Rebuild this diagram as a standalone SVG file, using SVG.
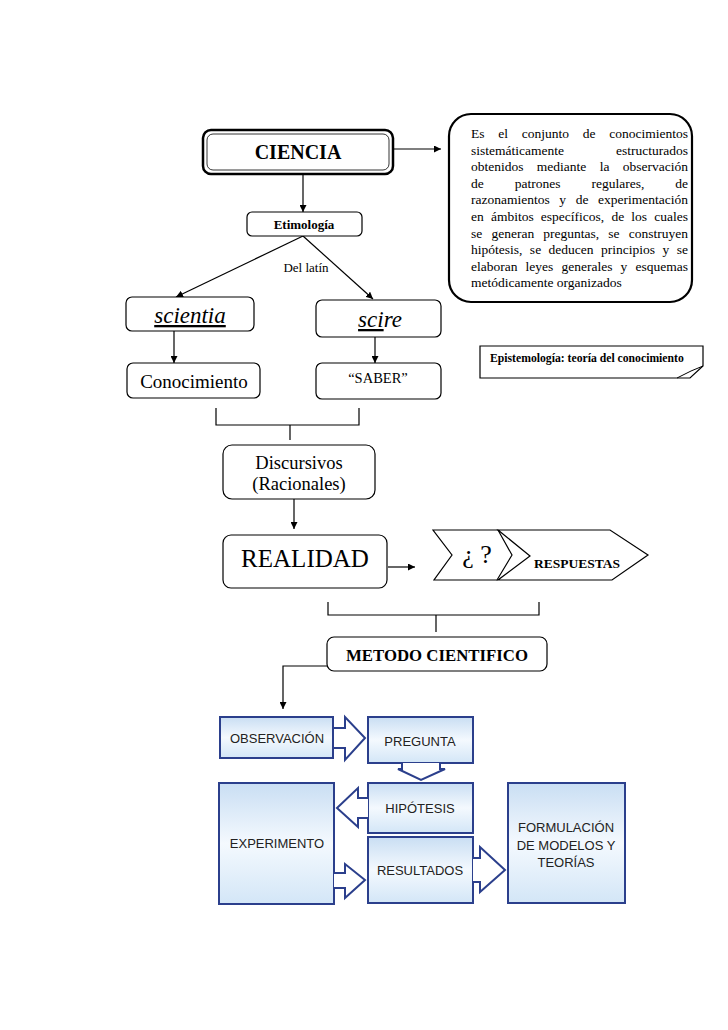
<svg xmlns="http://www.w3.org/2000/svg" width="728" height="1030" viewBox="0 0 728 1030">
<defs>
<marker id="ah" viewBox="0 0 10 10" refX="10" refY="5" markerWidth="7" markerHeight="7" orient="auto" markerUnits="userSpaceOnUse"><path d="M0,0 L10,5 L0,10 z" fill="#000"/></marker>
<linearGradient id="bg" x1="0" y1="0" x2="0" y2="1">
<stop offset="0" stop-color="#c9def3"/><stop offset="0.5" stop-color="#f4f9fe"/><stop offset="1" stop-color="#d3e6f7"/>
</linearGradient>
<style>
.box{fill:#fff;stroke:#000;stroke-width:1.2}
.t{font-family:"Liberation Serif",serif;fill:#000}
.b{font-family:"Liberation Serif",serif;font-weight:bold;fill:#000}
.s{font-family:"Liberation Sans",Arial,sans-serif;fill:#222}
.bb{fill:url(#bg);stroke:#2b3f8c;stroke-width:2}
.ba{fill:#fff;stroke:#2b3f8c;stroke-width:2;stroke-linejoin:miter}
.c{fill:none;stroke:#000;stroke-width:1.2}
</style>
</defs>
<rect width="728" height="1030" fill="#fff"/>

<g id="connectors">
<line class="c" x1="393" y1="149" x2="441" y2="149" marker-end="url(#ah)"/>
<line class="c" x1="303" y1="174" x2="303" y2="212" marker-end="url(#ah)"/>
<line class="c" x1="303" y1="236" x2="176" y2="297" marker-end="url(#ah)"/>
<line class="c" x1="303" y1="236" x2="373" y2="299" marker-end="url(#ah)"/>
<line class="c" x1="174" y1="331" x2="174" y2="363" marker-end="url(#ah)"/>
<line class="c" x1="375" y1="337" x2="375" y2="363" marker-end="url(#ah)"/>
<path class="c" d="M216,408 V425 H359 V408 M290,425 V440"/>
<line class="c" x1="294" y1="499" x2="294" y2="529" marker-end="url(#ah)"/>
<line class="c" x1="388" y1="567" x2="415" y2="567" marker-end="url(#ah)"/>
<path class="c" d="M328,602 V615 H539 V602 M436,615 V632"/>
<path class="c" d="M327,666 H283 V709" marker-end="url(#ah)"/>
</g>

<g id="ciencia">
<rect x="203" y="130" width="190" height="44" rx="8" fill="#fff" stroke="#000" stroke-width="2.5"/>
<rect x="207" y="134" width="182" height="36" rx="6" fill="none" stroke="#000" stroke-width="0.8"/>
<text class="b" x="298" y="159" font-size="20" text-anchor="middle">CIENCIA</text>
</g>

<g id="definicion">
<rect x="449" y="114" width="243" height="188" rx="22" fill="#fff" stroke="#000" stroke-width="2.2"/>
<g class="t" font-size="13.5">
<text x="471" y="138" word-spacing="10.4" textLength="217" lengthAdjust="spacing">Es el conjunto de conocimientos</text>
<text x="471" y="154.6" word-spacing="48.7" textLength="217" lengthAdjust="spacing">sistemáticamente estructurados</text>
<text x="471" y="171.2" word-spacing="10" textLength="217" lengthAdjust="spacing">obtenidos mediante la observación</text>
<text x="471" y="187.8" word-spacing="27.6" textLength="217" lengthAdjust="spacing">de patrones regulares, de</text>
<text x="471" y="204.4" word-spacing="6.2" textLength="217" lengthAdjust="spacing">razonamientos y de experimentación</text>
<text x="471" y="221" word-spacing="3.8" textLength="217" lengthAdjust="spacing">en ámbitos específicos, de los cuales</text>
<text x="471" y="237.6" word-spacing="5.8" textLength="217" lengthAdjust="spacing">se generan preguntas, se construyen</text>
<text x="471" y="254.2" word-spacing="4.1" textLength="217" lengthAdjust="spacing">hipótesis, se deducen principios y se</text>
<text x="471" y="270.8" word-spacing="4.8" textLength="217" lengthAdjust="spacing">elaboran leyes generales y esquemas</text>
<text x="471" y="287.4">metódicamente organizados</text>
</g>
</g>

<g id="etimologia">
<rect class="box" x="247" y="212" width="115" height="24" rx="5"/>
<text class="b" x="304" y="229" font-size="13" text-anchor="middle">Etimología</text>
</g>

<g id="del-latin">
<text class="t" x="306" y="272" font-size="13" text-anchor="middle">Del latín</text>
</g>

<g id="scientia">
<rect class="box" x="126" y="297" width="128" height="34" rx="6"/>
<text class="t" x="190" y="323" font-size="23" font-style="italic" text-anchor="middle" text-decoration="underline">scientia</text>
</g>

<g id="scire">
<rect class="box" x="316" y="300" width="125" height="37" rx="6"/>
<text class="t" x="380" y="327" font-size="23" font-style="italic" text-anchor="middle"><tspan text-decoration="underline">sci</tspan>re</text>
</g>

<g id="conocimiento">
<rect class="box" x="127" y="363" width="133" height="35" rx="6"/>
<text class="t" x="194" y="388" font-size="19" text-anchor="middle">Conocimiento</text>
</g>

<g id="saber">
<rect class="box" x="316" y="363" width="125" height="36" rx="6"/>
<text class="t" x="378" y="383" font-size="14.5" text-anchor="middle">“SABER”</text>
</g>

<g id="epistemologia">
<path d="M480,346 H703 V366 L690,378 H480 Z" fill="#fff" stroke="#000" stroke-width="1.2"/>
<path d="M703,366 Q692,370 677,378" fill="none" stroke="#000" stroke-width="1"/>
<text class="b" x="490" y="362" font-size="11.7">Epistemología: teoría del conocimiento</text>
</g>

<g id="discursivos">
<rect class="box" x="223" y="445" width="152" height="54" rx="9"/>
<text class="t" x="299" y="469" font-size="18.5" text-anchor="middle">Discursivos</text>
<text class="t" x="299" y="490" font-size="18.5" text-anchor="middle">(Racionales)</text>
</g>

<g id="realidad">
<rect class="box" x="223" y="535" width="164" height="53" rx="8"/>
<text class="t" x="305" y="567" font-size="25" text-anchor="middle">REALIDAD</text>
</g>

<g id="pregunta-chevron">
<path d="M433,530 H498 L512,555 L497,580 H434 L452,555 Z" fill="#fff" stroke="#000" stroke-width="1.2"/>
<text class="t" x="477" y="563" font-size="26" text-anchor="middle">¿ ?</text>
</g>

<g id="respuestas">
<path d="M498,530 H610 L648,555 L612,580 H498 L530,556 Z" fill="#fff" stroke="#000" stroke-width="1.2"/>
<text class="b" x="577" y="568" font-size="13.5" text-anchor="middle">RESPUESTAS</text>
</g>

<g id="metodo">
<rect class="box" x="327" y="637" width="220" height="34" rx="7"/>
<text class="b" x="437" y="661" font-size="16.8" text-anchor="middle">METODO CIENTIFICO</text>
</g>

<g id="observacion">
<rect class="bb" x="220" y="717" width="113" height="41"/>
<text class="s" x="277" y="743" font-size="13" text-anchor="middle">OBSERVACIÓN</text>
</g>

<g id="pregunta">
<rect class="bb" x="368" y="717" width="105" height="46"/>
<text class="s" x="420" y="746" font-size="13" text-anchor="middle">PREGUNTA</text>
</g>

<g id="experimento">
<rect class="bb" x="219" y="783" width="115" height="121"/>
<text class="s" x="277" y="848" font-size="13" text-anchor="middle">EXPERIMENTO</text>
</g>

<g id="hipotesis">
<rect class="bb" x="368" y="783" width="105" height="50"/>
<text class="s" x="420" y="813" font-size="13" text-anchor="middle">HIPÓTESIS</text>
</g>

<g id="resultados">
<rect class="bb" x="368" y="837" width="105" height="66"/>
<text class="s" x="420" y="875" font-size="13" text-anchor="middle">RESULTADOS</text>
</g>

<g id="formulacion">
<rect class="bb" x="508" y="783" width="117" height="120"/>
<text class="s" x="566" y="832" font-size="13" text-anchor="middle">FORMULACIÓN</text>
<text class="s" x="566" y="850" font-size="13" text-anchor="middle">DE MODELOS Y</text>
<text class="s" x="566" y="867" font-size="13" text-anchor="middle">TEORÍAS</text>
</g>

<g id="block-arrows">
<path class="ba" d="M334,728 H345 V717 L365,738 L345,760 V748 H334"/>
<path class="ba" d="M402,763 V769 H398 L421,780 L445,769 H440 V763"/>
<path class="ba" d="M368,798 H358 V788 L337,808 L358,827 V818 H368"/>
<path class="ba" d="M334,873 H345 V864 L365,880 L345,898 V888 H334"/>
<path class="ba" d="M473,858 H480 V847 L505,870 L480,892 V882 H473"/>
</g>
</svg>
